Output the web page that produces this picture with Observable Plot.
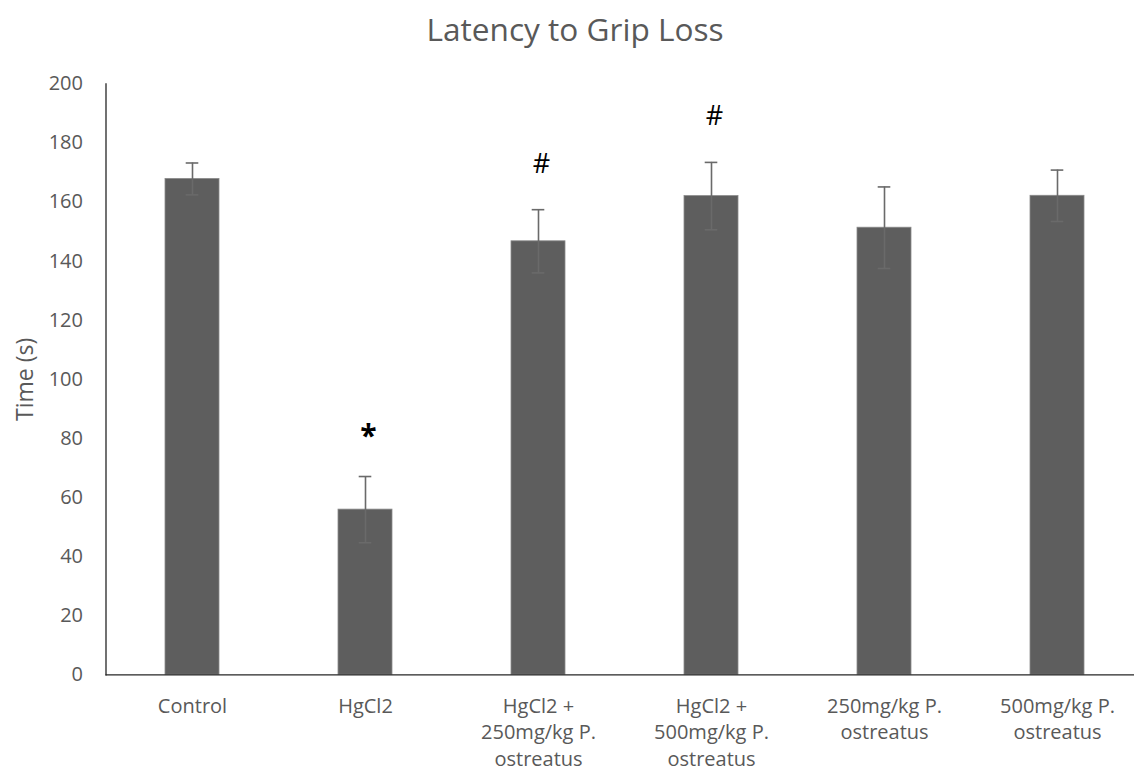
<!DOCTYPE html>
<html>
<head>
<meta charset="utf-8">
<script src="https://cdn.jsdelivr.net/npm/d3@7"></script>
<script src="https://cdn.jsdelivr.net/npm/@observablehq/plot@0.6"></script>
<style>
  html, body { margin: 0; padding: 0; background: #ffffff; }
  #chart { width: 1134px; height: 776px; overflow: hidden; font-family: "Open Sans", sans-serif; }
  #title {
    height: 53px; line-height: 53px; margin: 0; padding: 2px 0 0 16px;
    text-align: center; font-size: 31.6px; font-weight: 400; color: #595959;
    font-family: "Open Sans", sans-serif;
  }
  #chart svg { display: block; }
</style>
</head>
<body>
<div id="chart">
  <div id="title">Latency to Grip Loss</div>
</div>
<script>
// Treatment groups, in display order
const categories = [
  "Control",
  "HgCl2",
  "HgCl2 + 250mg/kg P. ostreatus",
  "HgCl2 + 500mg/kg P. ostreatus",
  "250mg/kg P. ostreatus",
  "500mg/kg P. ostreatus"
];
// Wrapped axis labels for each group
const tickLabels = [
  "Control",
  "HgCl2",
  "HgCl2 +\n250mg/kg P.\nostreatus",
  "HgCl2 +\n500mg/kg P.\nostreatus",
  "250mg/kg P.\nostreatus",
  "500mg/kg P.\nostreatus"
];
// Mean latency (s) and its error (±)
const meanTime = [167.8, 55.9, 146.7, 162.0, 151.3, 162.1];
const errTime = [5.4, 11.2, 10.7, 11.4, 13.8, 8.7];
// Significance markers
const signif = ["", "*", "#", "#", "", ""];
const yTicks = [0, 20, 40, 60, 80, 100, 120, 140, 160, 180, 200];

const rows = categories.map((c, i) => ({
  group: c,
  label: tickLabels[i],
  mean: meanTime[i],
  lo: meanTime[i] - errTime[i],
  hi: meanTime[i] + errTime[i],
  sig: signif[i]
}));

const gap = 15.5; // space between error cap and marker, in seconds
const stars = rows.filter(d => d.sig === "*").map(d => ({...d, at: d.hi + gap}));
const hashes = rows.filter(d => d.sig === "#").map(d => ({...d, at: d.hi + gap}));

const ink = "#595959";

const plot = Plot.plot({
  width: 1134,
  height: 721,
  marginTop: 28.3,
  marginBottom: 101.7,
  marginLeft: 105.5,
  marginRight: 0,
  style: { fontFamily: "Open Sans, sans-serif", fontSize: "20px", color: ink, background: "#ffffff" },
  x: { domain: categories, range: [105.5, 1144], paddingInner: 0.686, paddingOuter: 0.343 },
  y: { domain: [0, 200] },
  marks: [
    Plot.barY(rows, { x: "group", y: "mean", fill: "#5e5e5e", stroke: "#8a8a8a", strokeWidth: 0.8 }),
    Plot.ruleX(rows, { x: "group", y1: "lo", y2: "hi", stroke: "#6a6a6a", strokeWidth: 1.6 }),
    Plot.tickY(rows, { x: "group", y: "hi", stroke: "#6a6a6a", strokeWidth: 1.6, inset: 20.7 }),
    Plot.tickY(rows, { x: "group", y: "lo", stroke: "#6a6a6a", strokeWidth: 1.6, inset: 20.7 }),
    Plot.ruleY([0], { stroke: "#262626", strokeWidth: 1.3 }),
    Plot.frame({ anchor: "left", stroke: "#262626", strokeWidth: 1.3 }),
    Plot.axisY({ ticks: yTicks, tickSize: 0, tickPadding: 23, fontSize: 20, fill: ink, label: null }),
    Plot.axisX({
      tickSize: 0, tickPadding: 19, fontSize: 20, fill: ink, lineHeight: 1.33, label: null,
      tickFormat: d => tickLabels[categories.indexOf(d)]
    }),
    Plot.text(["Time (s)"], { frameAnchor: "left", dx: -80, rotate: -90, textAnchor: "middle", fontSize: 23, fill: ink }),
    Plot.text(stars, { x: "group", y: "at", text: "sig", dx: 3, dy: 6, fontSize: 30, fontWeight: "bold", fill: "#000000" }),
    Plot.text(hashes, { x: "group", y: "at", text: "sig", dx: 3, fontSize: 27, fill: "#000000" })
  ]
});

document.getElementById("chart").appendChild(plot);
</script>
</body>
</html>
